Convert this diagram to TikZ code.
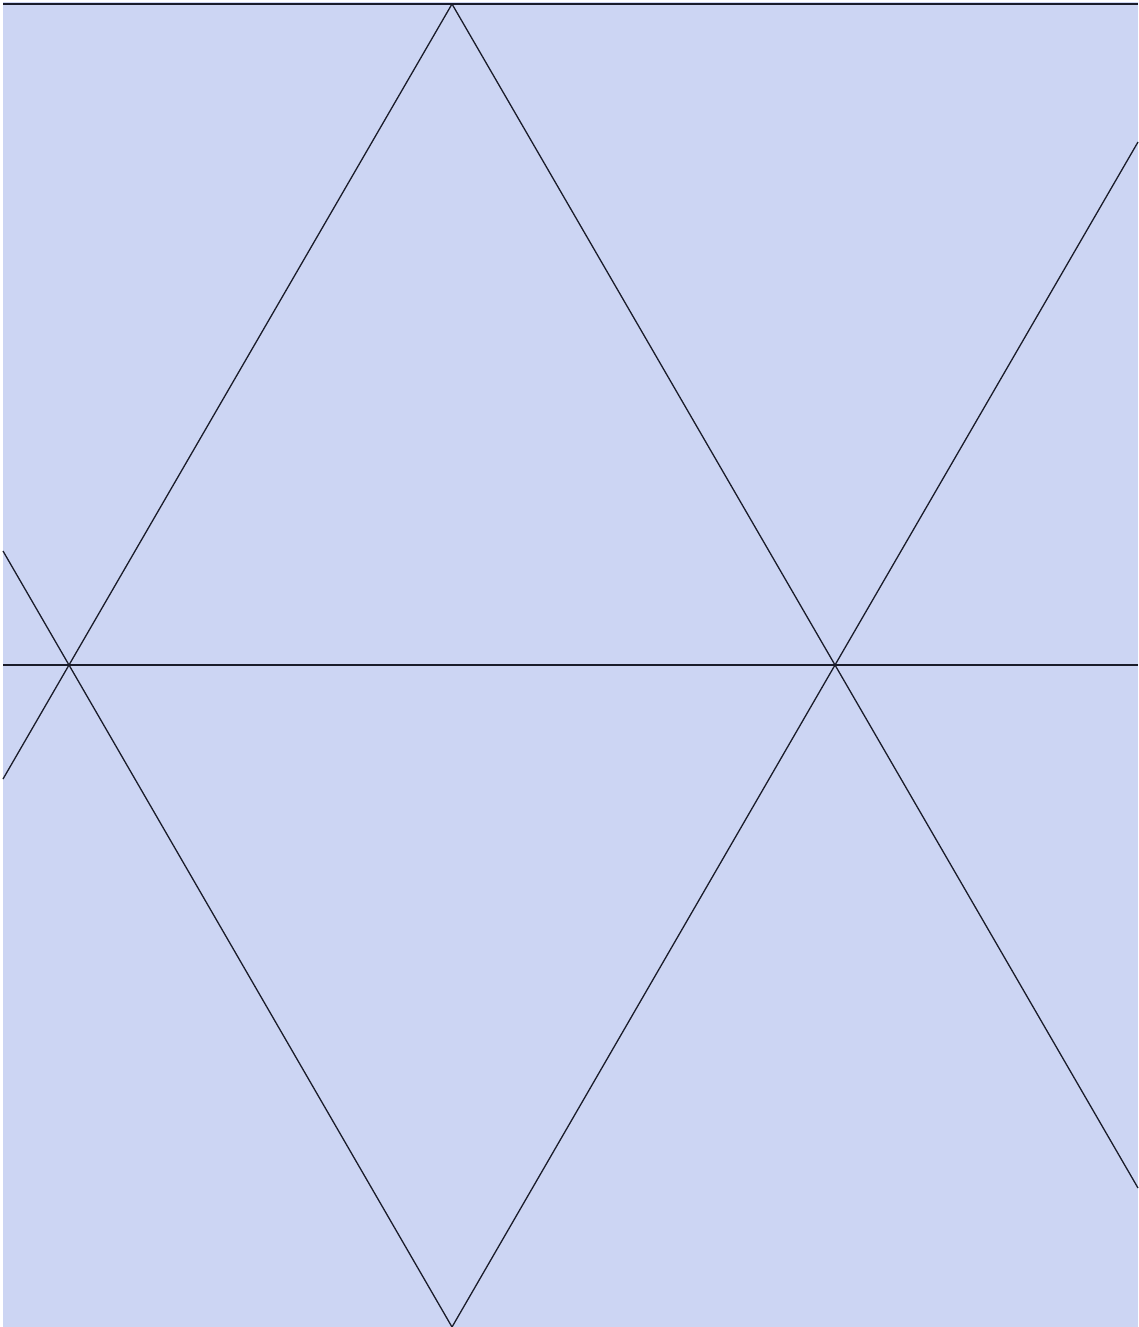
\documentclass[tikz,border=0pt]{standalone}
\definecolor{bg}{HTML}{CCD5F3}
\definecolor{ln}{HTML}{1A1C2A}
\tikzset{lattice/.style={draw=ln,line width=1.3pt}}
\begin{document}
\begin{tikzpicture}[x=1pt,y=-1pt]
\useasboundingbox (0,0) rectangle (1138,1327);
\fill[white] (0,0) rectangle (1138,1327);
\fill[bg] (3,2) rectangle (1138,1327);
% lattice vertices
\coordinate (T) at (452,4);
\coordinate (ML) at (69,665);
\coordinate (MR) at (835,665);
\coordinate (B) at (452,1327);
% edge points
\coordinate (TL) at (3,4);
\coordinate (TR) at (1138,4);
\coordinate (HL) at (3,665);
\coordinate (HR) at (1138,665);
\coordinate (L1) at (3,779);
\coordinate (L2) at (3,551);
\coordinate (R1) at (1138,1188);
\coordinate (R2) at (1138,142);
\draw[lattice] (TL) -- (TR);
\draw[lattice] (HL) -- (HR);
\draw[lattice] (T) -- (ML) -- (L1);
\draw[lattice] (T) -- (MR) -- (R1);
\draw[lattice] (R2) -- (MR) -- (B);
\draw[lattice] (L2) -- (ML) -- (B);
\end{tikzpicture}
\end{document}
